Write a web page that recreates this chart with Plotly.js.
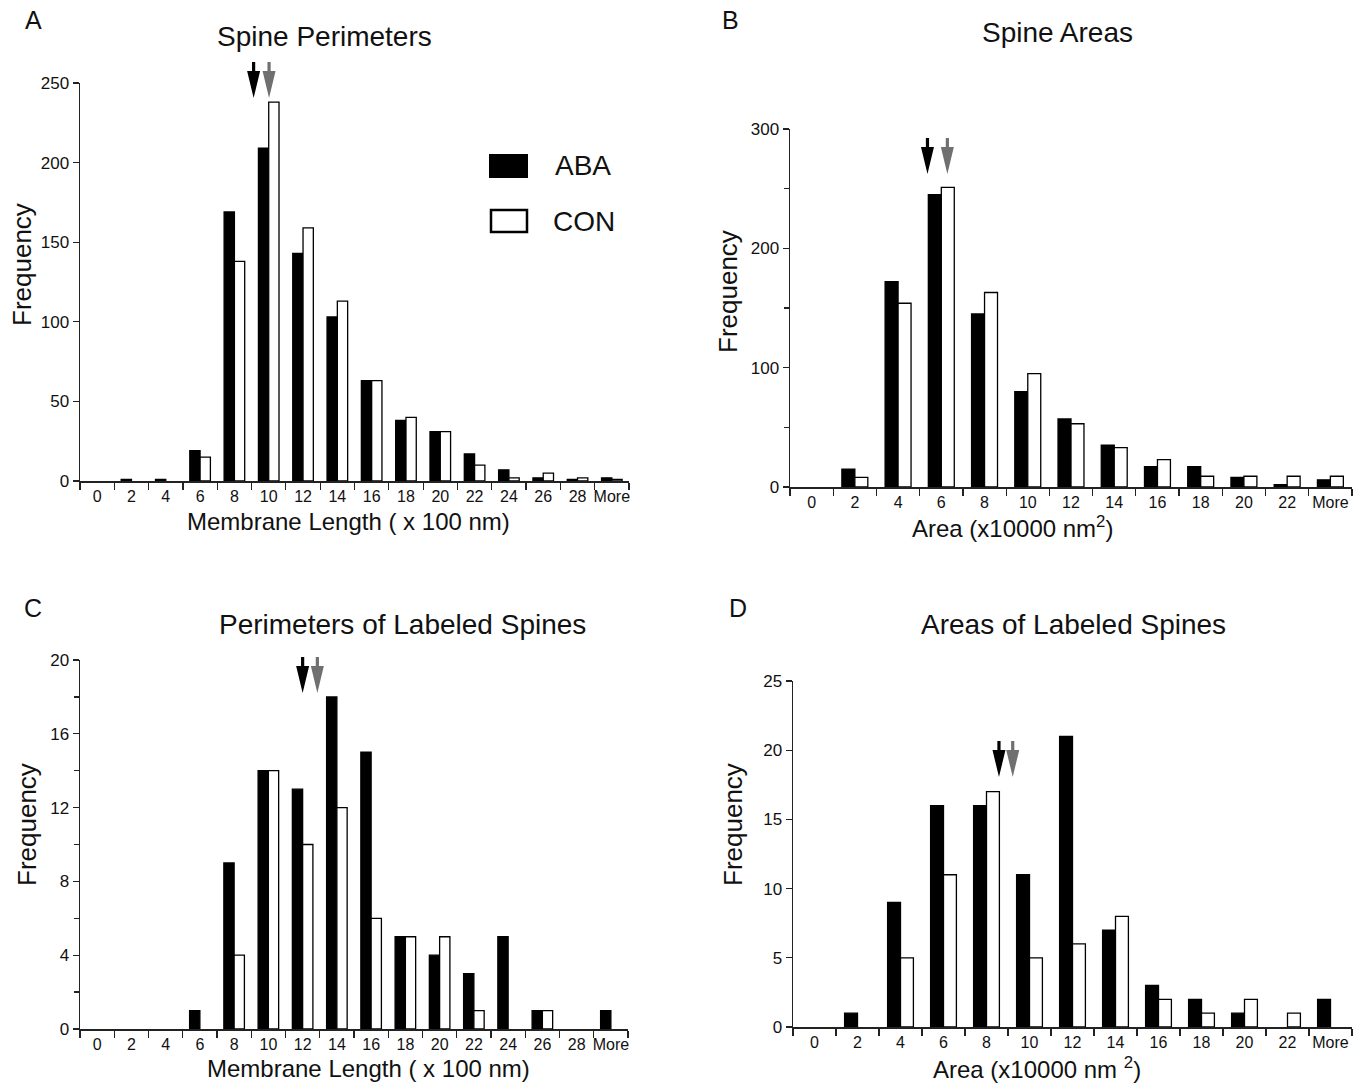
<!DOCTYPE html>
<html>
<head>
<meta charset="utf-8">
<script src="https://cdn.plot.ly/plotly-3.0.1.min.js"></script>
<style>
  html, body { margin: 0; padding: 0; background: #fff; }
  #chart { width: 1366px; height: 1083px; }
</style>
</head>
<body>
<div id="chart"></div>
<script>
// ---------------- DATA ----------------
const perimCats = ['0','2','4','6','8','10','12','14','16','18','20','22','24','26','28','More'];
const areaCats  = ['0','2','4','6','8','10','12','14','16','18','20','22','More'];

// A: Spine Perimeters
const abaPerim = [0, 1, 1, 19, 169, 209, 143, 103, 63, 38, 31, 17, 7, 2, 1, 2];
const conPerim = [0, 0, 0, 15, 138, 238, 159, 113, 63, 40, 31, 10, 2, 5, 2, 1];

// B: Spine Areas
const abaArea = [0, 15, 172, 245, 145, 80, 57, 35, 17, 17, 8, 2, 6];
const conArea = [0, 8, 154, 251, 163, 95, 53, 33, 23, 9, 9, 9, 9];

// C: Perimeters of Labeled Spines
const abaPerimLab = [0, 0, 0, 1, 9, 14, 13, 18, 15, 5, 4, 3, 5, 1, 0, 1];
const conPerimLab = [0, 0, 0, 0, 4, 14, 10, 12, 6, 5, 5, 1, 0, 1, 0, 0];

// D: Areas of Labeled Spines
const abaAreaLab = [0, 1, 9, 16, 16, 11, 21, 7, 3, 2, 1, 0, 2];
const conAreaLab = [0, 0, 5, 11, 17, 5, 6, 8, 2, 1, 2, 1, 0];

// mean markers (arrows), in category-index units: [ABA, CON]
const meanPerim    = [4.56, 5.01];
const meanArea     = [2.68, 3.14];
const meanPerimLab = [6.00, 6.43];
const meanAreaLab  = [4.29, 4.61];

const seriesNames = ['ABA', 'CON'];

// ---------------- LAYOUT HELPERS ----------------
const W = 1366, H = 1083;
const px = x => x / W;
const py = y => 1 - y / H;

const xTickFont = { family: 'Liberation Sans, Arial, sans-serif', size: 16, color: '#111' };
const yTickFont = { family: 'Liberation Sans, Arial, sans-serif', size: 17, color: '#111' };
const txtFont  = { family: 'Liberation Sans, Arial, sans-serif', color: '#111' };

function barTrace(cats, vals, name, ax, ay, filled) {
  return {
    type: 'bar', x: cats, y: vals, name: name,
    xaxis: ax, yaxis: ay,
    marker: {
      color: filled ? '#000' : '#fff',
      line: { color: '#000', width: vals.map(v => (v > 0 ? 1.3 : 0)) }
    },
    hoverinfo: 'x+y+name'
  };
}

const data = [
  barTrace(perimCats, abaPerim, seriesNames[0], 'x', 'y', true),
  barTrace(perimCats, conPerim, seriesNames[1], 'x', 'y', false),
  barTrace(areaCats, abaArea, seriesNames[0], 'x2', 'y2', true),
  barTrace(areaCats, conArea, seriesNames[1], 'x2', 'y2', false),
  barTrace(perimCats, abaPerimLab, seriesNames[0], 'x3', 'y3', true),
  barTrace(perimCats, conPerimLab, seriesNames[1], 'x3', 'y3', false),
  barTrace(areaCats, abaAreaLab, seriesNames[0], 'x4', 'y4', true),
  barTrace(areaCats, conAreaLab, seriesNames[1], 'x4', 'y4', false)
];

function xAxis(x0, x1, anchor) {
  return {
    domain: [px(x0), px(x1)], anchor: anchor, type: 'category',
    tickson: 'boundaries', ticks: 'outside', ticklen: 7, tickwidth: 1.2, tickcolor: '#222',
    tickangle: 0,
    showline: true, linecolor: '#222', linewidth: 1.5,
    showgrid: false, zeroline: false, tickfont: xTickFont, fixedrange: true
  };
}
function yAxis(y0, y1, anchor, max, dtick, minor) {
  const a = {
    domain: [py(y0), py(y1)], anchor: anchor, range: [0, max],
    dtick: dtick, tick0: 0, ticks: 'outside', ticklen: 6, tickwidth: 1.2, tickcolor: '#222',
    showline: true, linecolor: '#222', linewidth: 1.5,
    showgrid: false, zeroline: false, tickfont: yTickFont, fixedrange: true
  };
  if (minor) a.minor = { dtick: minor, ticks: 'outside', ticklen: 5, tickcolor: '#222', showgrid: false };
  return a;
}

function ann(text, x, y, size, extra) {
  return Object.assign({
    text: text, x: px(x), y: py(y), xref: 'paper', yref: 'paper',
    showarrow: false, xanchor: 'center', yanchor: 'middle',
    font: Object.assign({}, txtFont, { size: size })
  }, extra || {});
}

const annotations = [
  ann('A', 33, 20, 25), ann('B', 730, 20, 25), ann('C', 33, 608, 25), ann('D', 738, 608, 25),
  ann('Spine Perimeters', 324, 36, 28),
  ann('Spine Areas', 1057, 32, 28),
  ann('Perimeters of Labeled Spines', 402, 624, 28),
  ann('Areas of Labeled Spines', 1073, 624, 28),
  ann('Frequency', 22, 265, 26, { textangle: -90 }),
  ann('Frequency', 728, 292, 26, { textangle: -90 }),
  ann('Frequency', 27, 825, 26, { textangle: -90 }),
  ann('Frequency', 733, 825, 26, { textangle: -90 }),
  ann('Membrane Length ( x 100 nm)', 348, 521, 24),
  ann('Area (x10000 nm<sup>2</sup>)', 1012, 527, 24),
  ann('Membrane Length ( x 100 nm)', 368, 1068, 24),
  ann('Area (x10000 nm <sup>2</sup>)', 1037, 1068, 24)
].concat([
  ann(seriesNames[0], 583, 165, 28),
  ann(seriesNames[1], 584, 221, 28)
]);

// arrow glyph (pixels, tip at 0,0, up is positive)
const arrowPath = 'M0,0 L-6.5,27 L-1.6,27 L-1.6,36 L1.6,36 L1.6,27 L6.5,27 Z';
function arrow(xref, xval, tipY, color) {
  return {
    type: 'path', xref: xref, yref: 'paper',
    xsizemode: 'pixel', ysizemode: 'pixel',
    xanchor: xval, yanchor: py(tipY),
    path: arrowPath, fillcolor: color, line: { width: 0 }, layer: 'above'
  };
}
const shapes = [
  arrow('x', meanPerim[0], 98, '#000'), arrow('x', meanPerim[1], 98, '#707070'),
  arrow('x2', meanArea[0], 174, '#000'), arrow('x2', meanArea[1], 174, '#707070'),
  arrow('x3', meanPerimLab[0], 693, '#000'), arrow('x3', meanPerimLab[1], 693, '#707070'),
  arrow('x4', meanAreaLab[0], 777, '#000'), arrow('x4', meanAreaLab[1], 777, '#707070'),
  // legend swatches
  { type: 'rect', xref: 'paper', yref: 'paper', x0: px(490), x1: px(527), y0: py(177), y1: py(155),
    fillcolor: '#000', line: { color: '#000', width: 2 } },
  { type: 'rect', xref: 'paper', yref: 'paper', x0: px(491), x1: px(527), y0: py(232), y1: py(210),
    fillcolor: '#fff', line: { color: '#000', width: 2.5 } }
];

const layout = {
  width: W, height: H,
  margin: { l: 0, r: 0, t: 0, b: 0 },
  paper_bgcolor: '#fff', plot_bgcolor: '#fff',
  showlegend: false,
  barmode: 'group', bargap: 0.4, bargroupgap: 0,
  xaxis:  xAxis(80, 629, 'y'),
  yaxis:  yAxis(481, 83, 'x', 250, 50),
  xaxis2: xAxis(790, 1352, 'y2'),
  yaxis2: yAxis(487, 129, 'x2', 300, 100, 50),
  xaxis3: xAxis(80, 628, 'y3'),
  yaxis3: yAxis(1029, 660, 'x3', 20, 4, 2),
  xaxis4: xAxis(793, 1352, 'y4'),
  yaxis4: yAxis(1027, 681, 'x4', 25, 5),
  annotations: annotations,
  shapes: shapes,
  font: txtFont
};

Plotly.newPlot('chart', data, layout, { displayModeBar: false, staticPlot: true });
</script>
</body>
</html>
